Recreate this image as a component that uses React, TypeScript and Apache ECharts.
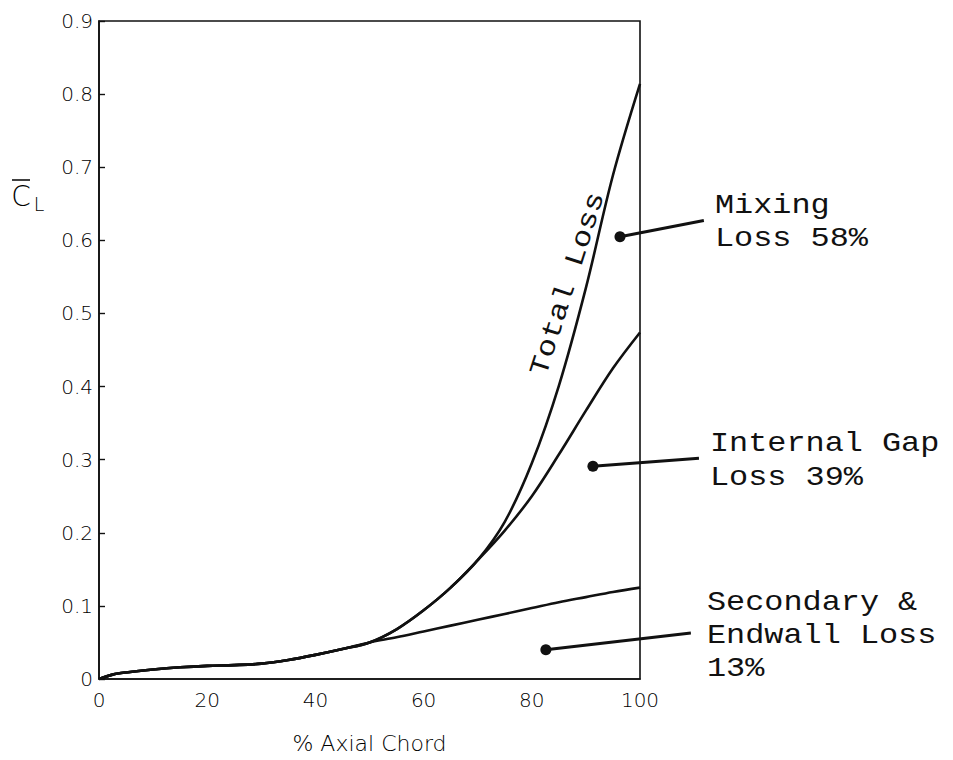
import React, { useEffect, useRef } from "react";
import * as echarts from "echarts";

// % axial chord positions
const xMain = [0, 2.5, 5, 10, 15, 20, 25, 30, 35, 40, 45, 50, 55, 60, 65, 70, 75, 80, 85, 90, 95, 100];
const totalLoss = [0, 0.006, 0.009, 0.013, 0.016, 0.018, 0.019, 0.021, 0.026, 0.033, 0.041, 0.05, 0.068, 0.094, 0.125, 0.1625, 0.215, 0.295, 0.401, 0.535, 0.689, 0.814];
const internalGap = [0, 0.006, 0.009, 0.013, 0.016, 0.018, 0.019, 0.021, 0.026, 0.033, 0.041, 0.05, 0.068, 0.094, 0.125, 0.1625, 0.203, 0.25, 0.307, 0.367, 0.425, 0.474];
const xSec = [0, 2.5, 5, 10, 15, 20, 25, 30, 35, 40, 45, 50, 55, 60, 65, 70, 75, 80, 85, 90, 95, 100];
const secondary = [0, 0.006, 0.009, 0.013, 0.016, 0.018, 0.019, 0.021, 0.026, 0.033, 0.041, 0.05, 0.057, 0.065, 0.073, 0.081, 0.089, 0.097, 0.105, 0.112, 0.119, 0.125];

const xTicks = [0, 20, 40, 60, 80, 100];
const yTicks = [0, 0.1, 0.2, 0.3, 0.4, 0.5, 0.6, 0.7, 0.8, 0.9];

const annotations = [
  { lines: ["Mixing", "Loss 58%"], dot: [96.3, 0.605], end: [111.8, 0.627] },
  { lines: ["Internal Gap", "Loss 39%"], dot: [91.3, 0.291], end: [110.9, 0.302] },
  { lines: ["Secondary &", "Endwall Loss", "13%"], dot: [82.6, 0.04], end: [109.4, 0.063] },
];

const INK = "#111111";
const SANS = "'DejaVu Sans', Lato, sans-serif";
const MONO = "'Liberation Mono', 'DejaVu Sans Mono', monospace";

export default function App() {
  const ref = useRef<HTMLDivElement>(null);
  useEffect(() => {
    if (!ref.current) return;
    const chart = echarts.init(ref.current, undefined, { renderer: "svg" });
    const pair = (xs: number[], ys: number[]) => xs.map((x, i) => [x, ys[i]]);
    const lineStyle = { color: INK, width: 2.6 };
    const common = { type: "line", showSymbol: false, smooth: 0.35, lineStyle, z: 3 };
    chart.setOption({
      animation: false,
      backgroundColor: "#ffffff",
      grid: { left: 99, top: 21, width: 541, height: 658, show: true, borderColor: INK, borderWidth: 1.6 },
      xAxis: {
        type: "value",
        min: 0,
        max: 100,
        interval: 20,
        name: "% Axial Chord",
        nameLocation: "middle",
        nameGap: 53,
        nameTextStyle: { fontFamily: SANS, fontWeight: 200, fontSize: 22, color: "#000" },
        axisLine: { show: true, lineStyle: { color: INK, width: 1.6 } },
        axisTick: { show: false },
        splitLine: { show: false },
        axisLabel: { fontFamily: SANS, fontWeight: 200, fontSize: 20, color: "#000", margin: 11, formatter: (v: number) => (xTicks.includes(v) ? String(v) : "") },
      },
      yAxis: {
        type: "value",
        min: 0,
        max: 0.9,
        interval: 0.1,
        axisLine: { show: true, lineStyle: { color: INK, width: 1.6 } },
        axisTick: { show: true, inside: true, length: 6, lineStyle: { color: INK, width: 1.4 } },
        splitLine: { show: false },
        axisLabel: {
          fontFamily: SANS,
          fontWeight: 200,
          fontSize: 20,
          color: "#000",
          margin: 6,
          formatter: (v: number) => {
            const t = yTicks.find((y) => Math.abs(y - v) < 1e-6);
            if (t === undefined) return "";
            return t === 0 ? "0" : t.toFixed(1);
          },
        },
      },
      series: [
        { ...common, name: "Total Loss", data: pair(xMain, totalLoss) },
        { ...common, name: "Internal Gap Loss", data: pair(xMain, internalGap) },
        { ...common, name: "Secondary & Endwall Loss", data: pair(xSec, secondary) },
      ],
    });

    const px = (p: number[]) => chart.convertToPixel({ gridIndex: 0 }, p) as number[];
    const graphics: any[] = [];
    const textX = [715, 710, 707];
    const firstY = [206, 444, 603];
    const spacing = [33, 34, 33];
    annotations.forEach((a, i) => {
      const d = px(a.dot);
      const e = px(a.end);
      graphics.push({ type: "line", shape: { x1: d[0], y1: d[1], x2: e[0], y2: e[1] }, style: { stroke: INK, lineWidth: 3 }, z: 10 });
      graphics.push({ type: "circle", shape: { cx: d[0], cy: d[1], r: 5.5 }, style: { fill: INK }, z: 10 });
      a.lines.forEach((ln, j) => {
        graphics.push({
          type: "text",
          x: textX[i],
          y: firstY[i] + j * spacing[i],
          scaleX: 1.18,
          style: { text: ln, fontFamily: MONO, fontSize: 27, fill: INK, align: "left", verticalAlign: "middle" },
          z: 10,
        });
      });
    });
    graphics.push({
      type: "text",
      x: 568,
      y: 284,
      rotation: 1.26,
      scaleX: 1.18,
      style: { text: "Total Loss", fontFamily: MONO, fontSize: 27, fill: INK, align: "center", verticalAlign: "middle" },
      z: 10,
    });
    // y-axis name: C with overbar, subscript L
    graphics.push({ type: "text", x: 21, y: 196, style: { text: "C", fontFamily: SANS, fontWeight: 200, fontSize: 28, fill: "#000", align: "center", verticalAlign: "middle" } });
    graphics.push({ type: "line", shape: { x1: 12, y1: 180, x2: 30, y2: 180 }, style: { stroke: INK, lineWidth: 1.6 } });
    graphics.push({ type: "text", x: 39, y: 204, style: { text: "L", fontFamily: SANS, fontWeight: 200, fontSize: 19, fill: "#000", align: "center", verticalAlign: "middle" } });
    chart.setOption({ graphic: graphics });

    return () => chart.dispose();
  }, []);
  return <div ref={ref} style={{ position: "fixed", left: 0, top: 0, width: 953, height: 760, background: "#fff" }} />;
}
